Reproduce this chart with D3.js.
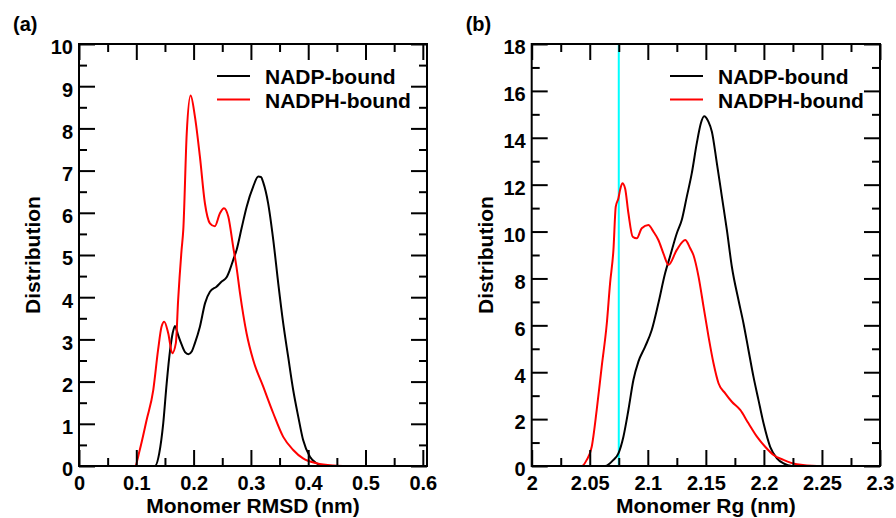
<!DOCTYPE html>
<html><head><meta charset="utf-8">
<script src="https://cdn.jsdelivr.net/npm/d3@7"></script>
<style>
html,body{margin:0;padding:0;background:#fff;}
text{font-family:"Liberation Sans",Arial,Helvetica,sans-serif;font-weight:bold;fill:#000;}
</style></head>
<body>
<svg id="chart" width="896" height="518"></svg>
<script>
// ---------- data ----------
const seriesNames = ["NADP-bound", "NADPH-bound"];
const seriesColors = ["#000000", "#ff0000"];

// Panel (a): Monomer RMSD distribution
const rmsdNADP = [
 [0.100,0],[0.125,0],[0.1326,0.0],[0.140,0.3],[0.147,1.01],[0.153,1.96],[0.159,2.75],[0.1635,3.15],[0.1675,3.32],
 [0.173,3.1],[0.179,2.88],[0.185,2.7],[0.191,2.65],[0.197,2.72],[0.202,2.9],[0.211,3.3],[0.220,3.86],[0.2285,4.13],
 [0.240,4.25],[0.249,4.37],[0.2576,4.47],[0.263,4.64],[0.269,4.88],[0.275,5.12],[0.284,5.65],[0.2925,6.14],
 [0.304,6.62],[0.3128,6.86],[0.3175,6.85],[0.3215,6.72],[0.330,6.23],[0.339,5.36],[0.3477,4.33],[0.3564,3.38],
 [0.365,2.59],[0.3738,1.80],[0.3826,1.17],[0.391,0.62],[0.403,0.22],[0.4146,0.064],[0.426,0.0],[0.45,0]
];
const rmsdNADPH = [
 [0.085,0],[0.0977,0.0],[0.106,0.38],[0.118,1.09],[0.1296,1.80],[0.138,2.75],[0.144,3.30],[0.1488,3.42],
 [0.1558,3.14],[0.1627,2.67],[0.169,2.91],[0.173,3.93],[0.179,5.12],[0.182,5.6],[0.188,7.88],[0.1948,8.78],
 [0.2023,8.28],[0.211,7.33],[0.2198,6.22],[0.2285,5.75],[0.237,5.68],[0.246,5.99],[0.253,6.11],[0.2605,5.91],
 [0.269,5.2],[0.275,4.7],[0.281,4.09],[0.2925,3.14],[0.304,2.51],[0.3215,1.88],[0.339,1.25],[0.3564,0.69],
 [0.3738,0.38],[0.391,0.18],[0.4146,0.064],[0.4436,0.01],[0.46,0]
];

// Panel (b): Monomer Rg distribution
const rgNADP = [
 [2.050,0],[2.0632,0.0],[2.0704,0.26],[2.0747,0.54],[2.079,1.25],[2.0833,2.39],[2.0876,3.67],[2.0919,4.45],
 [2.0977,5.09],[2.1034,5.80],[2.1091,6.94],[2.1149,8.22],[2.1192,8.95],[2.125,9.93],[2.1293,10.5],[2.1336,11.49],
 [2.1379,12.49],[2.1422,13.77],[2.1457,14.62],[2.1485,14.92],[2.1522,14.69],[2.1552,14.26],[2.1595,12.91],
 [2.1638,11.49],[2.1681,10.07],[2.1724,8.50],[2.1781,7.08],[2.1824,6.09],[2.1867,4.95],[2.191,3.81],
 [2.1953,2.82],[2.1997,1.82],[2.2054,0.82],[2.2112,0.33],[2.2169,0.11],[2.2241,0.0],[2.24,0]
];
const rgNADPH = [
 [2.035,0],[2.0431,0.0],[2.0474,0.26],[2.0517,0.82],[2.056,2.39],[2.0603,4.24],[2.0647,6.09],[2.0675,7.79],
 [2.0704,9.22],[2.0724,11.06],[2.0747,11.42],[2.0761,11.77],[2.0781,12.06],[2.0804,11.85],[2.0833,10.78],
 [2.087,9.78],[2.0905,9.71],[2.0948,10.14],[2.1005,10.28],[2.1048,10.0],[2.1091,9.64],[2.1134,9.07],
 [2.1178,8.58],[2.125,9.22],[2.1322,9.64],[2.1365,9.29],[2.1393,9.0],[2.1437,8.08],[2.148,6.80],[2.1523,5.52],
 [2.1566,4.38],[2.1609,3.53],[2.1667,3.10],[2.1724,2.74],[2.1796,2.39],[2.1867,1.82],[2.194,1.25],
 [2.2011,0.82],[2.2083,0.47],[2.2169,0.26],[2.2284,0.07],[2.2457,0.0],[2.26,0]
];

const cyanLineX = 2.075;

const rmsdTicks = [0, 0.1, 0.2, 0.3, 0.4, 0.5, 0.6];
const rmsdTickLabels = ["0", "0.1", "0.2", "0.3", "0.4", "0.5", "0.6"];
const rmsdYTicks = [0,1,2,3,4,5,6,7,8,9,10];
const rgTicks = [2, 2.05, 2.1, 2.15, 2.2, 2.25, 2.3];
const rgTickLabels = ["2", "2.05", "2.1", "2.15", "2.2", "2.25", "2.3"];
const rgYTicks = [0,2,4,6,8,10,12,14,16,18];

// ---------- drawing ----------
const svg = d3.select("#chart");
svg.append("rect").attr("width",896).attr("height",518).attr("fill","#fff");

function panel(opts){
  const {left, right, top, bottom, xDomain, yDomain, xTicks, xLabels, xMinor, yTicks, yMinor,
         series, xTitle, label, extra} = opts;
  const g = svg.append("g");
  const x = d3.scaleLinear().domain(xDomain).range([left, right]);
  const y = d3.scaleLinear().domain(yDomain).range([bottom, top]);

  // curves (clipped to frame)
  const clipId = "clip" + label.replace(/\W/g,"");
  svg.append("clipPath").attr("id", clipId).append("rect")
    .attr("x", left).attr("y", top).attr("width", right-left).attr("height", bottom-top);
  const line = d3.line().x(d=>x(d[0])).y(d=>y(d[1])).curve(d3.curveMonotoneX);
  const cg = g.append("g").attr("clip-path", `url(#${clipId})`);
  if (extra) extra(cg, x, y);
  series.forEach((s,i)=>{
    cg.append("path").attr("d", line(s)).attr("fill","none")
      .attr("stroke", seriesColors[i]).attr("stroke-width", 2).attr("stroke-linejoin","round");
  });

  const styleAxis = sel => { sel.select(".domain").remove(); sel.selectAll("line").attr("stroke","#000").attr("stroke-width",2); };

  // bottom major
  g.append("g").attr("transform",`translate(0,${bottom})`)
    .call(d3.axisBottom(x).tickValues(xTicks).tickSize(-16).tickPadding(10).tickFormat((d,i)=>xLabels[i]))
    .call(styleAxis)
    .call(s=>s.selectAll("text").attr("font-size",20).attr("font-family",null).attr("dy","0.71em"));
  g.append("g").attr("transform",`translate(0,${bottom})`)
    .call(d3.axisBottom(x).tickValues(xMinor).tickSize(-8).tickFormat(""))
    .call(styleAxis);
  // top
  g.append("g").attr("transform",`translate(0,${top})`)
    .call(d3.axisTop(x).tickValues(xTicks).tickSize(-16).tickFormat(""))
    .call(styleAxis);
  g.append("g").attr("transform",`translate(0,${top})`)
    .call(d3.axisTop(x).tickValues(xMinor).tickSize(-8).tickFormat(""))
    .call(styleAxis);
  // left
  g.append("g").attr("transform",`translate(${left},0)`)
    .call(d3.axisLeft(y).tickValues(yTicks).tickSize(-16).tickPadding(6))
    .call(styleAxis)
    .call(s=>s.selectAll("text").attr("font-size",20).attr("font-family",null).attr("dy","0.49em"));
  g.append("g").attr("transform",`translate(${left},0)`)
    .call(d3.axisLeft(y).tickValues(yMinor).tickSize(-8).tickFormat(""))
    .call(styleAxis);
  // right
  g.append("g").attr("transform",`translate(${right},0)`)
    .call(d3.axisRight(y).tickValues(yTicks).tickSize(-16).tickFormat(""))
    .call(styleAxis);
  g.append("g").attr("transform",`translate(${right},0)`)
    .call(d3.axisRight(y).tickValues(yMinor).tickSize(-8).tickFormat(""))
    .call(styleAxis);

  // frame
  g.append("rect").attr("x",left).attr("y",top).attr("width",right-left).attr("height",bottom-top)
    .attr("fill","none").attr("stroke","#000").attr("stroke-width",2);

  // titles
  g.append("text").attr("x",(left+right)/2).attr("y",513).attr("text-anchor","middle")
    .attr("font-size",21).text(xTitle);
  g.append("text").attr("transform",`translate(${left-39},${(top+bottom)/2}) rotate(-90)`)
    .attr("text-anchor","middle").attr("font-size",21).text("Distribution");
  g.append("text").attr("x",left-66).attr("y",31).attr("font-size",20).text(label);

  // legend
  seriesNames.forEach((n,i)=>{
    const ly = 76 + i*23.5;
    g.append("line").attr("x1",right-210).attr("x2",right-177).attr("y1",ly).attr("y2",ly)
      .attr("stroke",seriesColors[i]).attr("stroke-width",2);
    g.append("text").attr("x",right-162).attr("y",ly+8).attr("font-size",21).text(n);
  });
}

const rmsdMinor = d3.range(0.05, 0.6, 0.1).map(v=>+v.toFixed(2));
const rmsdYMinor = d3.range(0.5, 10, 1);
panel({left:79, right:427, top:44, bottom:466, xDomain:[0,0.6073], yDomain:[0,10],
  xTicks:rmsdTicks, xLabels:rmsdTickLabels, xMinor:rmsdMinor, yTicks:rmsdYTicks, yMinor:rmsdYMinor,
  series:[rmsdNADP, rmsdNADPH], xTitle:"Monomer RMSD (nm)", label:"(a)"});

const rgMinor = d3.range(2.025, 2.3, 0.05).map(v=>+v.toFixed(3));
const rgYMinor = d3.range(1, 18, 2);
panel({left:531.7, right:880, top:44, bottom:466, xDomain:[2,2.3], yDomain:[0,18],
  xTicks:rgTicks, xLabels:rgTickLabels, xMinor:rgMinor, yTicks:rgYTicks, yMinor:rgYMinor,
  series:[rgNADP, rgNADPH], xTitle:"Monomer Rg (nm)", label:"(b)",
  extra:(cg,x,y)=>{
    cg.append("line").attr("x1",x(cyanLineX)).attr("x2",x(cyanLineX)).attr("y1",y(0)).attr("y2",y(18))
      .attr("stroke","#00ffff").attr("stroke-width",2);
  }});
</script>
</body></html>
